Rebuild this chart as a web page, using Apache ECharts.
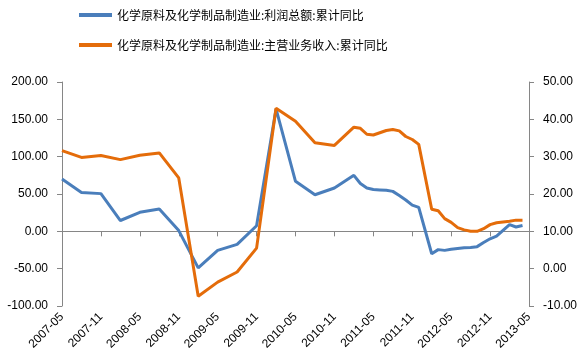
<!DOCTYPE html>
<html>
<head>
<meta charset="utf-8">
<script src="https://cdn.jsdelivr.net/npm/echarts@6/dist/echarts.min.js"></script>
<style>html,body{margin:0;padding:0;background:#fff;}#c{width:584px;height:361px;}</style>
</head>
<body>
<div id="c"></div>
<script>
// Monthly category axis from 2007-05 to 2013-05
const startYear = 2007, startMonth = 5, monthCount = 73;
const months = [];
for (let i = 0; i < monthCount; i++) {
  const m0 = startMonth - 1 + i;
  const y = startYear + Math.floor(m0 / 12);
  const m = (m0 % 12) + 1;
  months.push(y + '-' + (m < 10 ? '0' + m : m));
}

const seriesNames = ['化学原料及化学制品制造业:利润总额:累计同比', '化学原料及化学制品制造业:主营业务收入:累计同比'];

const dates = ['2007-05','2007-08','2007-11','2008-02','2008-05','2008-08','2008-11','2009-02','2009-05','2009-08','2009-11','2010-02','2010-05','2010-08','2010-11','2011-02','2011-03','2011-04','2011-05','2011-06','2011-07','2011-08','2011-09','2011-10','2011-11','2011-12','2012-02','2012-03','2012-04','2012-05','2012-06','2012-07','2012-08','2012-09','2012-10','2012-11','2012-12','2013-02','2013-03','2013-04'];

// left axis: profit cumulative YoY
const profit = [70, 52, 50.5, 14.5, 25.5, 30, 1, -49, -25.5, -17.5, 7.5, 164, 67, 49, 58, 75, 64, 58, 56, 55.5, 55, 53.5, 48, 42, 35, 32, -30, -24.5, -25.5, -24, -23, -22, -21.5, -20.5, -15, -10, -6.5, 9, 5.8, 7.8];
// right axis: revenue cumulative YoY
const revenue = [31.6, 29.8, 30.3, 29.2, 30.4, 31.0, 24.3, -7.4, -3.6, -0.9, 5.5, 43.0, 39.5, 33.7, 33.0, 37.9, 37.6, 36.0, 35.8, 36.4, 37.0, 37.3, 36.9, 35.4, 34.6, 33.3, 15.9, 15.5, 13.4, 12.4, 11.0, 10.4, 10.0, 10.0, 10.7, 11.8, 12.3, 12.7, 13.0, 13.0];

const leftTicks = {min: -100, max: 200, interval: 50};
const rightTicks = {min: -10, max: 50, interval: 10};

const axisColor = '#868686';
const labelFont = {fontFamily: '"Liberation Sans", Arial, sans-serif', fontSize: 12, color: '#000'};
const legendFont = {fontFamily: '"Noto Sans CJK SC", sans-serif', fontSize: 12, color: '#000'};
const colors = ['#4A7EBB', '#E46C0A'];

const chart = echarts.init(document.getElementById('c'), null, {renderer: 'canvas'});
chart.setOption({
  animation: false,
  backgroundColor: '#fff',
  color: colors,
  legend: [
    {data: [seriesNames[0]], left: 79, top: 9, padding: 0, icon: 'rect', itemWidth: 33, itemHeight: 4, textStyle: legendFont},
    {data: [seriesNames[1]], left: 79, top: 39, padding: 0, icon: 'rect', itemWidth: 33, itemHeight: 4, textStyle: legendFont}
  ],
  grid: {left: 62, right: 55, top: 82, bottom: 55, containLabel: false},
  xAxis: [
    {type: 'category', data: months, boundaryGap: false, position: 'bottom',
     axisLine: {onZero: true, onZeroAxisIndex: 0, lineStyle: {color: axisColor, width: 1}},
     axisTick: {show: true, interval: 5, length: 5, lineStyle: {color: axisColor}},
     axisLabel: {show: false}, splitLine: {show: false}},
    {type: 'category', data: months, boundaryGap: false, position: 'bottom',
     axisLine: {show: false, onZero: false}, axisTick: {show: false},
     axisLabel: Object.assign({show: true, interval: 5, rotate: 45, margin: 9}, labelFont),
     splitLine: {show: false}}
  ],
  yAxis: [
    {type: 'value', position: 'left', min: leftTicks.min, max: leftTicks.max, interval: leftTicks.interval,
     axisLine: {show: true, lineStyle: {color: axisColor}},
     axisTick: {show: true, length: 5, lineStyle: {color: axisColor}},
     axisLabel: Object.assign({margin: 14, formatter: v => v.toFixed(2)}, labelFont),
     splitLine: {show: false}},
    {type: 'value', position: 'right', min: rightTicks.min, max: rightTicks.max, interval: rightTicks.interval,
     axisLine: {show: true, lineStyle: {color: axisColor}},
     axisTick: {show: true, length: 5, lineStyle: {color: axisColor}},
     axisLabel: Object.assign({margin: 14, formatter: v => v.toFixed(2)}, labelFont),
     splitLine: {show: false}}
  ],
  series: [
    {name: seriesNames[0], type: 'line', xAxisIndex: 0, yAxisIndex: 0, showSymbol: false, symbol: 'none',
     connectNulls: true, lineStyle: {width: 3, color: colors[0]}, itemStyle: {color: colors[0]},
     data: dates.map((d, i) => [d, profit[i]])},
    {name: seriesNames[1], type: 'line', xAxisIndex: 0, yAxisIndex: 1, showSymbol: false, symbol: 'none',
     connectNulls: true, lineStyle: {width: 3, color: colors[1]}, itemStyle: {color: colors[1]},
     data: dates.map((d, i) => [d, revenue[i]])}
  ]
});
</script>
</body>
</html>
